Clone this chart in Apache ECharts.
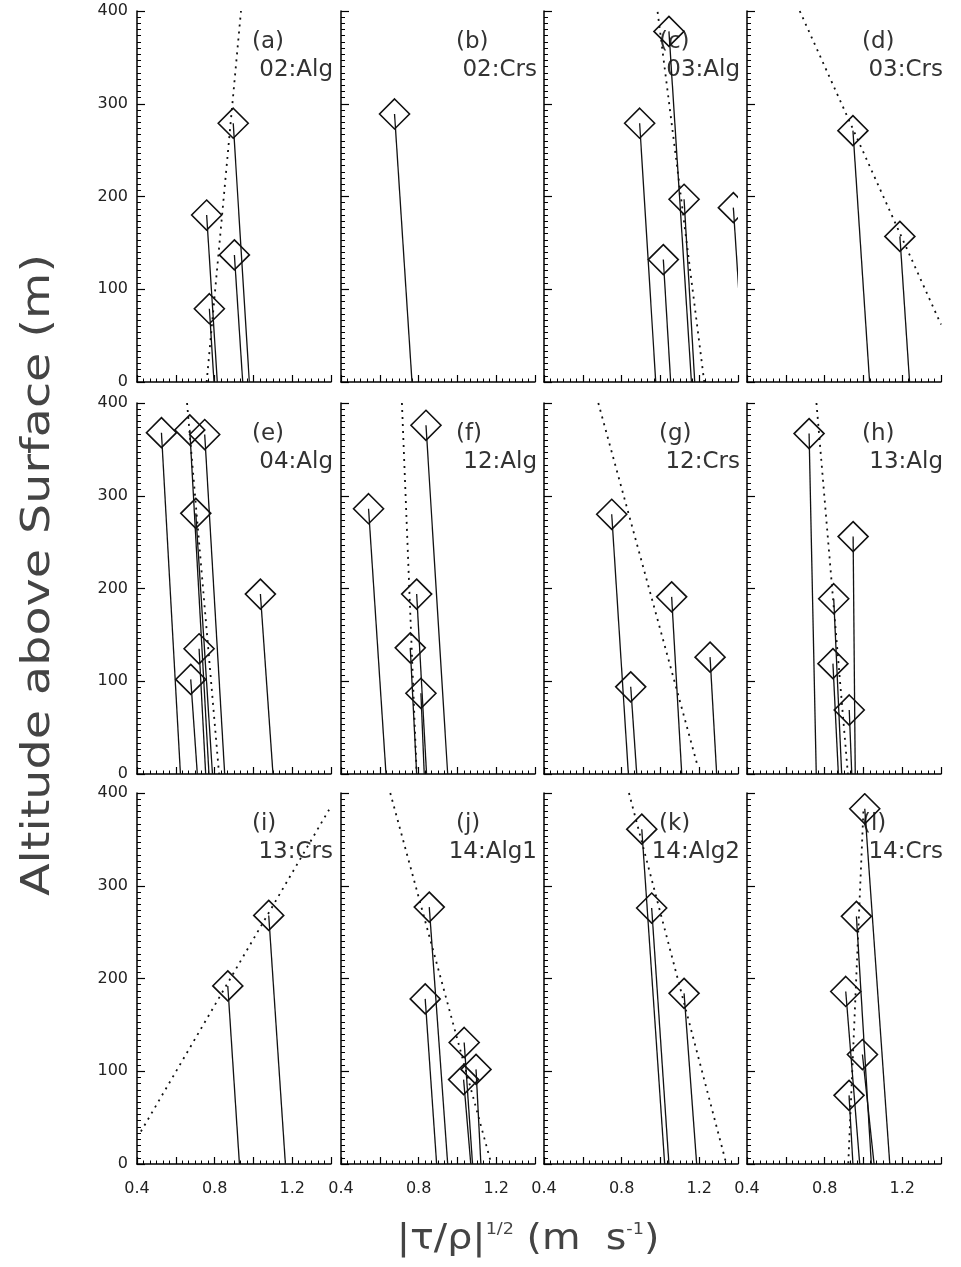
<!DOCTYPE html>
<html><head><meta charset="utf-8">
<script src="https://cdn.jsdelivr.net/npm/echarts@6/dist/echarts.min.js"></script>
<style>html,body{margin:0;padding:0;background:#fff}#c{width:961px;height:1267px}</style>
</head><body><div id="c"></div><script>
// ---- data (altitude m, |tau/rho|^1/2 at level, extrapolated surface value) ----
const xTickLabels = ['0.4', '0.8', '1.2'];
const yTickLabels = ['0', '100', '200', '300', '400'];
const panelLetters = ['(a)','(b)','(c)','(d)','(e)','(f)','(g)','(h)','(i)','(j)','(k)','(l)'];
const panelNames = ['02:Alg','02:Crs','03:Alg','03:Crs','04:Alg','12:Alg','12:Crs','13:Alg','13:Crs','14:Alg1','14:Alg2','14:Crs'];

const altA = [279, 180, 137, 79];
const topA = [0.896, 0.759, 0.902, 0.773];
const sfcA = [0.979, 0.814, 0.945, 0.797];
const fitA = [[0.759, 0], [0.936, 400]];

const altB = [289];
const topB = [0.676];
const sfcB = [0.766];
const fitB = [];

const altC = [378, 279, 197, 132, 188];
const topC = [1.044, 0.893, 1.122, 1.015, 1.376];
const sfcC = [1.160, 0.976, 1.177, 1.053, 1.435];
const fitC = [[1.226, 0], [0.985, 400]];

const altD = [271, 157];
const topD = [0.946, 1.188];
const sfcD = [1.032, 1.238];
const fitD = [[0.672, 400], [1.40, 62]];

const altE = [368, 371, 366, 281, 194, 135, 102];
const topE = [0.526, 0.672, 0.749, 0.703, 1.036, 0.720, 0.677];
const sfcE = [0.624, 0.771, 0.852, 0.789, 1.101, 0.754, 0.711];
const fitE = [[0.658, 400], [0.823, 0]];

const altF = [376, 286, 194, 136, 87];
const topF = [0.838, 0.542, 0.790, 0.757, 0.812];
const sfcF = [0.950, 0.632, 0.841, 0.790, 0.829];
const fitF = [[0.714, 400], [0.790, 0]];

const altG = [280, 191, 126, 94];
const topG = [0.749, 1.058, 1.256, 0.847];
const sfcG = [0.835, 1.110, 1.290, 0.878];
const fitG = [[0.680, 400], [1.19, 10]];

const altH = [367, 256, 189, 119, 69];
const topH = [0.720, 0.947, 0.847, 0.843, 0.927];
const sfcH = [0.757, 0.958, 0.888, 0.871, 0.940];
const fitH = [[0.758, 400], [0.920, 0]];

const altI = [268, 192];
const topI = [1.079, 0.868];
const sfcI = [1.165, 0.928];
const fitI = [[0.42, 35], [1.39, 382]];

const altJ = [277, 178, 131, 102, 91];
const topJ = [0.855, 0.834, 1.035, 1.096, 1.032];
const sfcJ = [0.950, 0.893, 1.078, 1.121, 1.069];
const fitJ = [[0.654, 400], [1.175, 0]];

const altK = [361, 276, 184];
const topK = [0.904, 0.955, 1.122];
const sfcK = [1.022, 1.044, 1.187];
const fitK = [[0.838, 400], [1.34, 0]];

const altL = [383, 267, 186, 118, 74];
const topL = [1.007, 0.964, 0.909, 0.995, 0.926];
const sfcL = [1.136, 1.041, 0.981, 1.055, 0.946];
const fitL = [[1.0, 380], [0.922, 0]];

const panels = [
  [altA, topA, sfcA, fitA], [altB, topB, sfcB, fitB], [altC, topC, sfcC, fitC], [altD, topD, sfcD, fitD],
  [altE, topE, sfcE, fitE], [altF, topF, sfcF, fitF], [altG, topG, sfcG, fitG], [altH, topH, sfcH, fitH],
  [altI, topI, sfcI, fitI], [altJ, topJ, sfcJ, fitJ], [altK, topK, sfcK, fitK], [altL, topL, sfcL, fitL]
];

// ---- layout / style ----
const colLeft = [137, 341, 544, 747];
const rowTop = [11, 403, 793];
const GW = 194, GH = 371;
const FONT = 'DejaVu Sans';
const INK = '#111';

function labelFrom(list) {
  return function (v) {
    for (const l of list) if (Math.abs(parseFloat(l) - v) < 1e-6) return l;
    return '';
  };
}

const grid = [], xAxis = [], yAxis = [], series = [], graphic = [];
panels.forEach(function (p, i) {
  const col = i % 4, row = Math.floor(i / 4);
  grid.push({ left: colLeft[col], top: rowTop[row], width: GW, height: GH, containLabel: false });
  xAxis.push({
    gridIndex: i, type: 'value', min: 0.4, max: 1.4, interval: 0.2,
    axisLine: { show: true, onZero: false, lineStyle: { color: '#000', width: 1.5 } },
    axisTick: { show: true, inside: true, length: 7, lineStyle: { color: '#000', width: 1.2 } },
    minorTick: { show: true, splitNumber: 6, length: 3.5, lineStyle: { color: '#000', width: 1 } },
    splitLine: { show: false }, minorSplitLine: { show: false },
    axisLabel: { show: row === 2, formatter: labelFrom(xTickLabels), color: '#222', fontSize: 16, fontFamily: FONT, margin: 17 }
  });
  yAxis.push({
    gridIndex: i, type: 'value', min: 0, max: 400, interval: 100,
    axisLine: { show: true, onZero: false, lineStyle: { color: '#000', width: 1.5 } },
    axisTick: { show: true, inside: true, length: 8, lineStyle: { color: '#000', width: 1.2 } },
    minorTick: { show: true, splitNumber: 15, length: 4, lineStyle: { color: '#000', width: 1 } },
    splitLine: { show: false }, minorSplitLine: { show: false },
    axisLabel: { show: col === 0, formatter: labelFrom(yTickLabels), color: '#222', fontSize: 16, fontFamily: FONT, margin: 9 }
  });
  const alt = p[0], top = p[1], sfc = p[2], fit = p[3];
  series.push({
    type: 'custom', xAxisIndex: i, yAxisIndex: i, clip: true, silent: true, animation: false,
    data: alt.map(function (a, k) { return [top[k], a, sfc[k]]; }),
    encode: { x: [0, 2], y: 1 },
    renderItem: function (params, api) {
      const c = api.coord([api.value(0), api.value(1)]);
      const s = api.coord([api.value(2), 0]);
      const h = 15;
      return {
        type: 'group',
        children: [
          { type: 'line', shape: { x1: c[0], y1: c[1], x2: s[0], y2: s[1] }, style: { stroke: INK, lineWidth: 1.3 } },
          { type: 'polygon', shape: { points: [[c[0], c[1] - h], [c[0] + h, c[1]], [c[0], c[1] + h], [c[0] - h, c[1]]] },
            style: { fill: 'none', stroke: INK, lineWidth: 1.6 } }
        ]
      };
    }
  });
  if (fit.length) {
    series.push({
      type: 'line', xAxisIndex: i, yAxisIndex: i, data: fit, symbol: 'none', showSymbol: false,
      clip: true, silent: true, animation: false,
      lineStyle: { type: [2, 5], width: 1.8, color: INK }
    });
  }
  graphic.push({ type: 'text', x: colLeft[col] + 115, y: rowTop[row] + 31,
    style: { text: panelLetters[i], fontSize: 23, fontFamily: FONT, fill: '#333', align: 'left', verticalAlign: 'middle' } });
  graphic.push({ type: 'text', x: colLeft[col] + 196, y: rowTop[row] + 59,
    style: { text: panelNames[i], fontSize: 23, fontFamily: FONT, fill: '#333', align: 'right', verticalAlign: 'middle' } });
});

graphic.push({ type: 'text', x: 39, y: 575, rotation: Math.PI / 2, scaleX: 1.22, scaleY: 1,
  style: { text: 'Altitude above Surface (m)', fontSize: 39, fontFamily: FONT, fill: '#444', align: 'center', verticalAlign: 'middle' } });
graphic.push({ type: 'text', x: 528, y: 1240, scaleX: 1.1, scaleY: 1,
  style: { text: '{a||τ/ρ|}{s|1/2}{a| (m  s}{s|-1}{a|)}', align: 'center', verticalAlign: 'middle',
    rich: { a: { fontSize: 36, fontFamily: FONT, fill: '#444' }, s: { fontSize: 16, fontFamily: FONT, fill: '#444', verticalAlign: 'top' } } } });

const chart = echarts.init(document.getElementById('c'), null, { renderer: 'canvas' });
chart.setOption({ animation: false, backgroundColor: '#fff', grid, xAxis, yAxis, series, graphic });
</script></body></html>
